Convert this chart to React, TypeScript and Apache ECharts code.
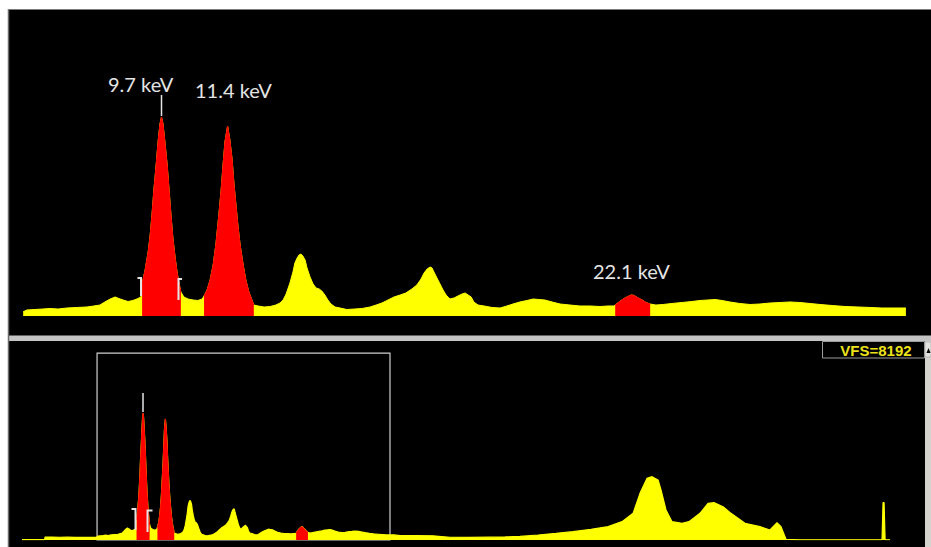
import React, { useEffect, useRef } from "react";
import * as echarts from "echarts";

// Spectrum as [energy keV, counts]
const topSpectrum: [number, number][] = [
  [6.07, 115], [6.17, 161], [6.38, 174], [6.59, 187], [6.78, 201], [6.99, 187], [7.22, 214], [7.49, 228], [7.75, 241], [7.93, 268], [8.09, 294], [8.22, 375], [8.36, 455], [8.49, 509], [8.59, 468], [8.70, 428], [8.83, 388], [8.96, 415], [9.09, 468], [9.17, 509],
  [9.20, 857], [9.28, 1231], [9.36, 1713], [9.41, 2142], [9.46, 2704], [9.51, 3373], [9.57, 4042], [9.62, 4658], [9.67, 5140], [9.71, 5327], [9.75, 5140], [9.80, 4658], [9.86, 4042], [9.91, 3373], [9.96, 2704], [10.01, 2088], [10.07, 1553], [10.12, 1178], [10.17, 883], [10.22, 642],
  [10.30, 509], [10.41, 455], [10.54, 428], [10.67, 415], [10.78, 455],
  [10.83, 535], [10.91, 696], [10.99, 964], [11.07, 1365], [11.14, 1901], [11.22, 2704], [11.28, 3373], [11.33, 4042], [11.38, 4658], [11.45, 5086], [11.51, 4712], [11.57, 4176], [11.62, 3507], [11.67, 2971], [11.72, 2436], [11.78, 1901], [11.86, 1365], [11.93, 964], [12.01, 642], [12.09, 428], [12.14, 294],
  [12.25, 268], [12.41, 241], [12.57, 254], [12.72, 294], [12.83, 348], [12.91, 428], [12.99, 589], [13.09, 883], [13.17, 1178], [13.22, 1419], [13.28, 1553], [13.33, 1633], [13.38, 1660], [13.43, 1606], [13.49, 1499], [13.54, 1285], [13.62, 1044], [13.70, 857], [13.78, 750], [13.86, 723], [13.93, 669], [14.01, 562], [14.09, 428], [14.17, 321], [14.28, 241], [14.41, 214], [14.59, 174], [14.80, 187], [14.99, 201], [15.20, 241], [15.36, 294], [15.51, 348], [15.67, 428], [15.83, 509], [15.99, 562], [16.14, 616], [16.30, 723], [16.43, 830], [16.54, 990], [16.62, 1151], [16.70, 1258], [16.78, 1312], [16.83, 1285], [16.88, 1178], [16.96, 1017], [17.04, 857], [17.12, 696], [17.20, 562], [17.30, 455], [17.41, 482], [17.51, 535], [17.62, 589], [17.70, 616], [17.78, 562], [17.86, 509], [17.93, 375], [18.04, 294], [18.20, 268], [18.41, 228], [18.62, 214], [18.80, 268], [18.96, 321], [19.14, 375], [19.33, 415], [19.49, 455], [19.64, 442], [19.80, 428], [19.99, 375], [20.20, 321], [20.46, 294], [20.72, 268], [20.99, 268], [21.25, 254], [21.46, 268], [21.62, 268],
  [21.65, 294], [21.75, 375], [21.86, 455], [21.96, 509], [22.07, 562], [22.15, 549], [22.25, 482], [22.36, 428], [22.46, 361], [22.57, 321],
  [22.72, 294], [22.91, 308], [23.14, 335], [23.41, 361], [23.67, 388], [23.88, 415], [24.09, 428], [24.28, 442], [24.46, 415], [24.67, 375], [24.93, 335], [25.20, 308], [25.46, 321], [25.72, 348], [25.99, 361], [26.25, 375], [26.51, 361], [26.78, 335], [27.04, 308], [27.36, 281], [27.70, 254], [28.04, 241], [28.36, 228], [28.67, 214], [28.99, 214], [29.30, 214],
];

const lowSpectrum: [number, number][] = [
  [0.27, 12], [1.0, 12], [1.6, 12], [2.03, 12], [2.06, 118], [2.6, 122], [3.2, 116], [3.8, 120], [4.4, 112], [5.0, 116], [5.6, 110], [6.0, 113],
];

const highSpectrum: [number, number][] = [
  [29.75, 180], [30.92, 185], [32.33, 175], [33.65, 115], [35.21, 110], [36.77, 120], [37.94, 130], [39.11, 150], [40.52, 210], [41.92, 280], [43.24, 350], [44.65, 448], [45.98, 560], [47.07, 770], [47.93, 1120], [48.47, 1960], [49.02, 2590], [49.41, 2660], [49.88, 2520], [50.11, 2100], [50.50, 1260], [50.97, 770], [51.75, 700], [52.29, 770], [53.15, 1120], [53.78, 1540], [54.24, 1570], [54.95, 1400], [55.57, 1120], [56.66, 700], [57.83, 560], [58.61, 420], [59.16, 728], [59.47, 560], [59.86, 30], [60.95, 10], [64.07, 10], [67.35, 10], [67.43, 1570], [67.51, 1570], [67.59, 10], [67.98, 10],
];

// Regions of interest (keV), drawn in red
const roiRanges: [number, number][] = [
  [9.2, 10.22],
  [10.83, 12.14],
  [21.65, 22.57],
];

const peakLabels = ["9.7 keV", "11.4 keV", "22.1 keV"];
const zoomWindow: [number, number] = [6.12, 28.97];
const verticalFullScale = 8192;

const YELLOW = "#ffff00";
const RED = "#ff0000";
const WHITE = "#e4e4e4";

export default function App() {
  const ref = useRef<HTMLDivElement>(null);

  useEffect(() => {
    if (!ref.current) return;
    const chart = echarts.init(ref.current, undefined, { renderer: "svg" });
    const fullSpectrum = [...lowSpectrum, ...topSpectrum, ...highSpectrum];

    const roiSeries = (data: [number, number][], axis: number) =>
      roiRanges.map(([a, b]) => ({
        type: "line",
        xAxisIndex: axis,
        yAxisIndex: axis,
        data: data.filter(([k]) => k >= a - 1e-9 && k <= b + 1e-9),
        symbol: "none",
        silent: true,
        z: 3,
        lineStyle: { color: RED, width: 1 },
        areaStyle: { color: RED, opacity: 1 },
      }));

    const option: any = {
      animation: false,
      backgroundColor: "#ffffff",
      grid: [
        { left: 20.5, right: 17.5, top: 10, height: 306 },
        { left: 18.6, right: 15, top: 345, height: 195 },
      ],
      xAxis: [
        { type: "value", gridIndex: 0, min: 6, max: 29.5, show: false, splitLine: { show: false } },
        { type: "value", gridIndex: 1, min: 0, max: 70, show: false, splitLine: { show: false } },
      ],
      yAxis: [
        { type: "value", gridIndex: 0, min: 0, max: verticalFullScale, show: false, splitLine: { show: false } },
        { type: "value", gridIndex: 1, min: 0, max: verticalFullScale, show: false, splitLine: { show: false } },
      ],
      series: [
        {
          type: "line",
          xAxisIndex: 0,
          yAxisIndex: 0,
          data: topSpectrum,
          symbol: "none",
          silent: true,
          z: 2,
          lineStyle: { color: YELLOW, width: 1 },
          areaStyle: { color: YELLOW, opacity: 1 },
        },
        ...roiSeries(topSpectrum, 0),
        {
          type: "line",
          xAxisIndex: 1,
          yAxisIndex: 1,
          data: fullSpectrum,
          symbol: "none",
          silent: true,
          z: 2,
          lineStyle: { color: YELLOW, width: 1.2 },
          areaStyle: { color: YELLOW, opacity: 1 },
          markArea: {
            silent: true,
            itemStyle: { color: "rgba(0,0,0,0)", borderColor: "#cfcfcf", borderWidth: 1.2 },
            data: [[{ coord: [zoomWindow[0], 0] }, { coord: [zoomWindow[1], 7854] }]],
          },
        },
        ...roiSeries(fullSpectrum, 1),
      ],
      graphic: [
        { type: "rect", z: -10, shape: { x: 8, y: 9, width: 923, height: 327 }, style: { fill: "#000000" } },
        { type: "rect", z: -10, shape: { x: 8, y: 341, width: 917, height: 206 }, style: { fill: "#000000" } },
        { type: "rect", z: -10, shape: { x: 8, y: 335.5, width: 923, height: 5.5 }, style: { fill: "#c4c4c4" } },
        { type: "line", z: -9, shape: { x1: 8.5, y1: 9, x2: 8.5, y2: 547 }, style: { stroke: "#6a6a6a", lineWidth: 1.5 } },
        { type: "line", z: -9, shape: { x1: 8, y1: 9.5, x2: 931, y2: 9.5 }, style: { stroke: "#7a7a7a", lineWidth: 1 } },
        // scrollbar
        { type: "rect", z: 50, shape: { x: 925, y: 341, width: 6, height: 206 }, style: { fill: "#d6d3ce" } },
        { type: "rect", z: 51, shape: { x: 925, y: 342, width: 6, height: 15 }, style: { fill: "#e4e2de", stroke: "#9a9a9a", lineWidth: 0.5 } },
        { type: "polygon", z: 52, shape: { points: [[926.5, 353], [930.5, 353], [928.5, 348]] }, style: { fill: "#000000" } },
        // VFS box
        { type: "rect", z: 50, shape: { x: 822.5, y: 341.5, width: 102, height: 16.5 }, style: { fill: "#000000", stroke: "#9c9c9c", lineWidth: 1 } },
        {
          type: "text", z: 51, x: 876, y: 350,
          style: { text: "VFS=" + verticalFullScale, fill: "#ece31a", font: "bold 15px 'Liberation Sans', sans-serif", textAlign: "center", textVerticalAlign: "middle" },
        },
        // peak labels
        {
          type: "text", z: 60, x: 108, y: 84,
          style: { text: peakLabels[0], fill: WHITE, font: "20px Lato, sans-serif", textAlign: "left", textVerticalAlign: "middle" },
        },
        {
          type: "text", z: 60, x: 195, y: 90,
          style: { text: peakLabels[1], fill: WHITE, font: "20px Lato, sans-serif", textAlign: "left", textVerticalAlign: "middle" },
        },
        {
          type: "text", z: 60, x: 593, y: 271,
          style: { text: peakLabels[2], fill: WHITE, font: "20px Lato, sans-serif", textAlign: "left", textVerticalAlign: "middle" },
        },
        // cursor markers
        { type: "line", z: 60, shape: { x1: 161.5, y1: 95, x2: 161.5, y2: 116 }, style: { stroke: WHITE, lineWidth: 1.5 } },
        { type: "line", z: 60, shape: { x1: 143, y1: 393, x2: 143, y2: 412 }, style: { stroke: WHITE, lineWidth: 1.5 } },
        // ROI brackets
        { type: "polyline", z: 60, shape: { points: [[137.5, 278], [141, 278], [141, 296]] }, style: { stroke: WHITE, lineWidth: 2, fill: "none" } },
        { type: "polyline", z: 60, shape: { points: [[182, 279], [178.5, 279], [178.5, 300]] }, style: { stroke: WHITE, lineWidth: 2, fill: "none" } },
        { type: "polyline", z: 60, shape: { points: [[131.5, 509], [135.5, 509], [135.5, 530]] }, style: { stroke: WHITE, lineWidth: 2, fill: "none" } },
        { type: "polyline", z: 60, shape: { points: [[152.5, 510.5], [147.5, 510.5], [147.5, 532]] }, style: { stroke: WHITE, lineWidth: 2, fill: "none" } },
      ],
    };
    chart.setOption(option);
    return () => chart.dispose();
  }, []);

  return (
    <div
      ref={ref}
      style={{ position: "fixed", left: 0, top: 0, width: 931, height: 547 }}
    />
  );
}
